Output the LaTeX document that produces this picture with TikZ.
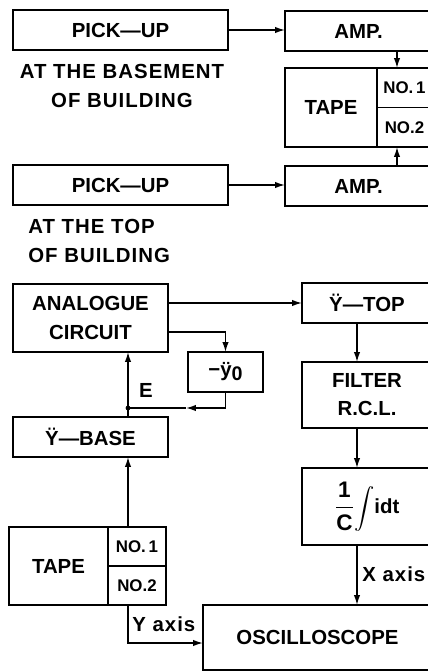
\documentclass[tikz,border=0pt]{standalone}
\usepackage{amsmath}
\usepackage{fontspec}
\setmainfont{Liberation Sans}
\usetikzlibrary{calc, positioning, arrows.meta}

\begin{document}
\begin{tikzpicture}[
    x=0.025cm, y=-0.025cm,
    blockbox/.style={draw, line width=1pt, inner sep=0pt, outer sep=0pt,
      minimum height=1.0cm, font=\fontsize{14.5}{20}\selectfont\bfseries, align=center},
    nobox/.style={blockbox, minimum width=1.375cm, minimum height=0.9875cm,
      font=\fontsize{12}{14}\selectfont\bfseries},
    arrow/.style={-{Latex[length=7pt, width=4.5pt]}, line width=1pt},
    wire/.style={line width=1pt},
    lbl/.style={font=\fontsize{14.5}{20}\selectfont\bfseries\addfontfeature{LetterSpace=5}, inner sep=0pt},
  ]
    \useasboundingbox (0,0) rectangle (428,672);

    \node[blockbox, minimum width=5.375cm] (pu1) at (120.5,30) {PICK—UP};
    \node[blockbox, minimum width=3.675cm] (amp1) at (358.5,31) {AMP.};
    \node[lbl, align=center] (base) at (122,86) {AT THE BASEMENT\\OF BUILDING};

    \node[blockbox, minimum width=2.3cm, minimum height=1.975cm] (tape1) at (331,107.5) {TAPE};
    \node[nobox] (t1a) at (404.5,87.75) {NO.\,1};
    \node[nobox] (t1b) at (404.5,127.25) {NO.2};

    \node[blockbox, minimum width=5.375cm] (pu2) at (120.5,185) {PICK—UP};
    \node[blockbox, minimum width=3.675cm] (amp2) at (358.5,186) {AMP.};
    \node[lbl, align=left, anchor=west] (top) at (28,241) {AT THE TOP\\OF BUILDING};

    \node[blockbox, minimum width=3.875cm, minimum height=1.7cm] (analog) at (90.5,318) {ANALOGUE\\CIRCUIT};
    \node[blockbox, minimum width=3.25cm] (ytop) at (367,303) {Ÿ—TOP};
    \node[blockbox, minimum width=1.875cm] (neg) at (225.5,372) {−ÿ\raisebox{-0.35ex}{\fontsize{14}{15}\selectfont 0}};
    \node[blockbox, minimum width=3.875cm] (ybase) at (90.5,437) {Ÿ—BASE};
    \node[blockbox, minimum width=3.25cm, minimum height=1.65cm] (filter) at (367,395) {FILTER\\R.C.L.};
    \node[blockbox, minimum width=3.25cm, minimum height=1.925cm] (integ) at (367,506.5)
      {{\fontsize{16}{18}\selectfont$\dfrac{\mbox{1}}{\mbox{C}}$}$\displaystyle\int$idt};

    \node[blockbox, minimum width=2.475cm, minimum height=1.95cm] (tape2) at (58.5,566) {TAPE};
    \node[nobox, minimum width=1.45cm, minimum height=0.975cm] (t2a) at (137,546.5) {NO.\,1};
    \node[nobox, minimum width=1.45cm, minimum height=0.975cm] (t2b) at (137,585.5) {NO.2};
    \node[blockbox, minimum width=5.725cm, minimum height=1.625cm] (osc) at (317.5,637.5) {OSCILLOSCOPE};

    \coordinate (rcol) at (397,0);
    \coordinate (mcol) at (357,0);
    \coordinate (jn) at (128,408);
    \coordinate (fbtip) at (186,408);

    \draw[arrow] (pu1.east) -- (pu1.east -| amp1.west);
    \draw[arrow] (pu2.east) -- (pu2.east -| amp2.west);
    \draw[arrow] (amp1.south -| rcol) -- (t1a.north -| rcol);
    \draw[arrow] (amp2.north -| rcol) -- (t1b.south -| rcol);

    \draw[arrow] (analog.east |- ytop.west) -- (ytop.west);
    \draw[arrow] (analog.east |- 0,332) -| (neg.north);
    \draw[arrow] (neg.south) |- (fbtip);
    \draw[wire] (fbtip) -- (jn);
    \fill (jn) circle (1.7pt);
    \draw[arrow] (jn |- ybase.north) -- (jn |- analog.south);
    \node[lbl] (elbl) at (146,390) {E};
    \draw[arrow] (jn |- t2a.north) -- (jn |- ybase.south);

    \draw[arrow] (ytop.south -| mcol) -- (filter.north -| mcol);
    \draw[arrow] (filter.south -| mcol) -- (integ.north -| mcol);
    \draw[arrow] (integ.south -| mcol) -- (osc.north -| mcol);
    \node[lbl, anchor=west] (xlbl) at (362,574) {X axis};

    \draw[arrow] (jn |- t2b.south) |- (osc.west |- 0,643);
    \node[lbl, anchor=west] (ylbl) at (132,624) {Y axis};
\end{tikzpicture}
\end{document}
